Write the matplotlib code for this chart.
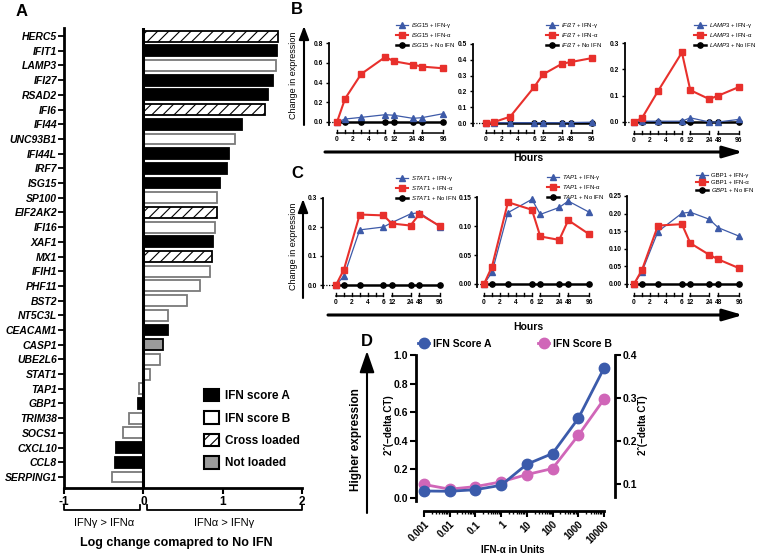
import numpy as np
import matplotlib
matplotlib.use('Agg')
import matplotlib.pyplot as plt
from matplotlib.patches import Patch, FancyArrowPatch

plt.rcParams['font.family'] = ['Liberation Sans', 'DejaVu Sans']
plt.rcParams['mathtext.fontset'] = 'custom'
plt.rcParams['mathtext.rm'] = 'Liberation Sans'
plt.rcParams['mathtext.it'] = 'Liberation Sans:italic'
plt.rcParams['hatch.linewidth'] = 0.8

# ---- panel A data: log change vs no IFN, and which score the gene loads on
genes = ['HERC5', 'IFIT1', 'LAMP3', 'IFI27', 'RSAD2', 'IFI6', 'IFI44', 'UNC93B1',
         'IFI44L', 'IRF7', 'ISG15', 'SP100', 'EIF2AK2', 'IFI16', 'XAF1', 'MX1',
         'IFIH1', 'PHF11', 'BST2', 'NT5C3L', 'CEACAM1', 'CASP1', 'UBE2L6', 'STAT1',
         'TAP1', 'GBP1', 'TRIM38', 'SOCS1', 'CXCL10', 'CCL8', 'SERPING1']
log_change = [1.70, 1.68, 1.67, 1.64, 1.57, 1.53, 1.24, 1.16, 1.08, 1.05, 0.97,
              0.93, 0.93, 0.90, 0.88, 0.86, 0.84, 0.71, 0.55, 0.31, 0.31, 0.25,
              0.21, 0.08, -0.06, -0.07, -0.18, -0.26, -0.34, -0.36, -0.40]
loading = ['X', 'A', 'B', 'A', 'A', 'X', 'A', 'B', 'A', 'A', 'A', 'B', 'X', 'B',
           'A', 'X', 'B', 'B', 'B', 'B', 'A', 'N', 'B', 'B', 'B', 'A', 'B', 'B',
           'A', 'A', 'B']

# ---- panels B/C data: change in expression over time
hours = [0, 1, 3, 6, 12, 24, 48, 96]
isg15_gamma = [0, 0.03, 0.047, 0.074, 0.068, 0.037, 0.044, 0.084]
isg15_alpha = [0, 0.236, 0.486, 0.659, 0.615, 0.581, 0.561, 0.544]
ifi27_gamma = [0, 0.002, 0.002, 0.002, 0.002, 0.002, 0.003, 0.005]
ifi27_alpha = [0, 0.006, 0.04, 0.229, 0.307, 0.375, 0.386, 0.411]
lamp3_gamma = [0, 0.003, 0.003, 0.003, 0.016, 0.0, 0.0, 0.01]
lamp3_alpha = [0, 0.015, 0.117, 0.264, 0.121, 0.087, 0.1, 0.133]
stat1_gamma = [0, 0.03, 0.19, 0.2, 0.215, 0.245, 0.25, 0.2]
stat1_alpha = [0, 0.053, 0.243, 0.24, 0.212, 0.205, 0.245, 0.203]
tap1_gamma = [0, 0.02, 0.123, 0.146, 0.12, 0.132, 0.143, 0.124]
tap1_alpha = [0, 0.03, 0.141, 0.128, 0.082, 0.076, 0.11, 0.086]
gbp1_gamma = [0, 0.035, 0.149, 0.201, 0.204, 0.184, 0.16, 0.136]
gbp1_alpha = [0, 0.04, 0.166, 0.17, 0.116, 0.083, 0.07, 0.045]
no_ifn = [0, 0, 0, 0, 0, 0, 0, 0]

# ---- panel D data: dose response
dose = [0.001, 0.01, 0.1, 1, 10, 100, 1000, 10000]
dose_labels = ['0.001', '0.01', '0.1', '1', '10', '100', '1000', '10000']
score_a = [0.049, 0.047, 0.058, 0.089, 0.236, 0.311, 0.556, 0.907]
score_b = [0.099, 0.088, 0.094, 0.105, 0.122, 0.136, 0.213, 0.297]

RED = '#e8302c'
BLUE = '#3d5aa8'
BLUE_D = '#3b5bab'
PINK = '#d066b8'

W, H = 760, 558
fig = plt.figure(figsize=(W / 100, H / 100), dpi=100)


def px_axes(x0, y0, x1, y1):
    return fig.add_axes([x0 / W, 1 - y1 / H, (x1 - x0) / W, (y1 - y0) / H])


def ftext(x, y, s, **kw):
    kw.setdefault('ha', 'center')
    kw.setdefault('va', 'center')
    fig.text(x / W, 1 - y / H, s, **kw)


def arrow(x0, y0, x1, y1, lw=1.5, hl=1.0, hw=0.4):
    fig.add_artist(FancyArrowPatch((x0 / W, 1 - y0 / H), (x1 / W, 1 - y1 / H),
                                   transform=fig.transFigure, color='black', lw=lw,
                                   arrowstyle='-|>,head_length=%g,head_width=%g' % (hl, hw),
                                   mutation_scale=10, shrinkA=0, shrinkB=0))


# ================= panel A
axA = px_axes(64, 28, 302, 488)
styles = {
    'A': dict(color='black', edgecolor='black'),
    'B': dict(color='white', edgecolor='#7a7a7a'),
    'X': dict(color='white', edgecolor='black', hatch='///'),
    'N': dict(color='#9b9b9b', edgecolor='black'),
}
ypos = np.arange(len(genes))
vals = np.array(log_change)
cats = np.array(loading)
for c, st in styles.items():
    m = cats == c
    axA.barh(ypos[m], vals[m], height=0.74, lw=1.3, **st)
axA.set_ylim(30.75, -0.55)
axA.set_xlim(-1, 2)
axA.axvline(0, color='black', lw=2.2, zorder=5)
for s in ['top', 'right']:
    axA.spines[s].set_visible(False)
for s in ['left', 'bottom']:
    axA.spines[s].set_linewidth(2)
axA.set_yticks(ypos, genes, fontstyle='italic', fontweight='bold', fontsize=7.5)
axA.set_xticks([-1, 0, 1, 2], ['-1', '0', '1', '2'], fontweight='bold', fontsize=8.5)
axA.tick_params(axis='y', length=4, width=1.3, pad=1)
axA.tick_params(axis='x', length=4, width=1.5, pad=2)

trA = axA.get_xaxis_transform()
yb = -22 / 460
for a, b in [(-1, -0.04), (0.04, 2)]:
    axA.plot([a, a, b, b], [yb + 0.011, yb, yb, yb + 0.011], color='black', lw=1.3,
             transform=trA, clip_on=False)
ftext(104, 523, 'IFNγ > IFNα', fontsize=8)
ftext(224, 523, 'IFNα > IFNγ', fontsize=8)
ftext(176, 543, 'Log change comapred to No IFN', fontsize=9, fontweight='bold')

handles = [Patch(facecolor='black', edgecolor='black', lw=1.5),
           Patch(facecolor='white', edgecolor='black', lw=1.5),
           Patch(facecolor='white', edgecolor='black', lw=1.5, hatch='///'),
           Patch(facecolor='#9b9b9b', edgecolor='black', lw=1.5)]
axA.legend(handles, ['IFN score A', 'IFN score B', 'Cross loaded', 'Not loaded'],
           loc='upper left', bbox_to_anchor=(204 / W, 1 - 389 / H),
           bbox_transform=fig.transFigure, frameon=False,
           prop={'weight': 'bold', 'size': 8.5}, handlelength=1.25, handleheight=1.25,
           handletextpad=0.5, labelspacing=0.78, borderpad=0, borderaxespad=0)

# ================= panels B and C
H_BR = [-50, 0, 6, 12, 24, 48, 96, 400]
P_BR = [-50, 0, 6, 7.05, 9.42, 10.55, 13.15, 29.6]


def fwd(h):
    return np.interp(h, H_BR, P_BR)


def inv(p):
    return np.interp(p, P_BR, H_BR)


def time_panel(gene, gamma, alpha, box, ymax, ystep, fmt, seg_y, leg_xy,
               italic=(True, True, True)):
    spine, x0, x96, ytop, y0 = box
    unit = (x96 - x0) / fwd(96)
    ybot = y0 + 3
    ax = px_axes(spine, ytop, x96 + 6, ybot)
    ax.set_xscale('function', functions=(fwd, inv))
    left = inv(-(x0 - spine) / unit)
    ax.set_xlim(left, inv(fwd(96) + 6 / unit))
    ax.set_ylim(-3 * ymax / (y0 - ytop), ymax)

    names = [r'$\mathit{%s}$' % gene if it else gene for it in italic]
    ax.plot(hours, gamma, color=BLUE, marker='^', ms=3.8, lw=0.9, zorder=4,
            clip_on=False, label=names[0] + ' + IFN-γ')
    ax.plot(hours, alpha, color=RED, marker='s', ms=4.4, lw=1.5, zorder=5,
            clip_on=False, label=names[1] + ' + IFN-α')
    ax.plot(hours, no_ifn, color='black', marker='o', ms=3.8, lw=1.8, zorder=3,
            clip_on=False, label=names[2] + ' + No IFN')
    ax.plot([left, 0], [0, 0], color='black', ls=(0, (1, 1.2)), lw=0.9, clip_on=False)

    for s in ['top', 'right', 'bottom']:
        ax.spines[s].set_visible(False)
    ax.spines['left'].set_linewidth(1.3)
    yt = np.arange(0, ymax + ystep / 2, ystep)
    ax.set_yticks(yt, [fmt % v for v in yt], fontsize=4.8, fontweight='bold')
    ax.tick_params(axis='y', length=2.5, width=1, pad=1.5)
    xt = [0, 2, 4, 6, 12, 24, 48, 96]
    ax.set_xticks(xt, [str(v) for v in xt], fontsize=4.8, fontweight='bold')
    ax.tick_params(axis='x', length=0, pad=(seg_y + 3 - ybot) / 1.389)

    tr = ax.get_xaxis_transform()
    hpx = ybot - ytop
    ys = -(seg_y - ybot) / hpx
    th = 3.5 / hpx
    for a, b, ticks in [(0, 6, range(0, 7)), (12, 24, [12, 24]), (48, 96, [48, 96])]:
        ax.plot([a, b], [ys, ys], color='black', lw=1.1, transform=tr, clip_on=False)
        for t in ticks:
            ax.plot([t, t], [ys, ys + th], color='black', lw=1.0, transform=tr,
                    clip_on=False)

    mx, ty = leg_xy
    ax.legend(loc='upper left', bbox_to_anchor=((mx - 6) / W, 1 - ty / H),
              bbox_transform=fig.transFigure, frameon=False, fontsize=4.3,
              handlelength=2.0, handletextpad=0.5, labelspacing=0.25,
              borderpad=0, borderaxespad=0)
    return ax


time_panel('ISG15', isg15_gamma, isg15_alpha, (329, 337, 443, 43, 122), 0.8, 0.2,
           '%.1f', 133, (402, 21))
time_panel('IFI27', ifi27_gamma, ifi27_alpha, (473, 486, 592, 44, 123), 0.5, 0.1,
           '%.1f', 133, (552, 21))
time_panel('LAMP3', lamp3_gamma, lamp3_alpha, (625, 634, 739, 43, 122), 0.3, 0.1,
           '%.1f', 134, (700, 21))
time_panel('STAT1', stat1_gamma, stat1_alpha, (323, 336, 440, 198, 285), 0.3, 0.1,
           '%.1f', 296, (402, 174))
time_panel('TAP1', tap1_gamma, tap1_alpha, (477, 484, 589, 197, 284), 0.15, 0.05,
           '%.2f', 296, (553, 173))
time_panel('GBP1', gbp1_gamma, gbp1_alpha, (627, 634, 739, 196, 284), 0.25, 0.05,
           '%.2f', 296, (702, 173), italic=(False, False, True))

arrow(325, 152, 743, 152, lw=2.2, hl=1.2, hw=0.35)
arrow(328, 315, 743, 315, lw=2.2, hl=1.2, hw=0.35)
ftext(528, 158, 'Hours', fontsize=7.5, fontweight='bold')
ftext(528, 327, 'Hours', fontsize=7.5, fontweight='bold')
arrow(304, 125, 304, 26, lw=1.5, hl=0.8, hw=0.3)
arrow(303, 298, 303, 199, lw=1.5, hl=0.8, hw=0.3)
ftext(293, 75, 'Change in expression', fontsize=6.5, rotation=90)
ftext(293, 246, 'Change in expression', fontsize=6.5, rotation=90)

# ================= panel D
axD = px_axes(416, 355, 615, 501)
twD = axD.twinx()
axD.set_zorder(twD.get_zorder() + 1)
axD.patch.set_visible(False)
axD.set_xscale('log')
axD.set_xlim(10 ** -3.31, 10 ** 4.43)
axD.set_ylim(-0.021, 1.0)
twD.set_ylim(0.0605, 0.4)
la, = axD.plot(dose, score_a, '-o', color=BLUE_D, lw=2, ms=7.5, clip_on=False,
               label='IFN Score A')
lb, = twD.plot(dose, score_b, '-o', color=PINK, lw=2, ms=7.5, clip_on=False,
               label='IFN Score B')
for s in ['top', 'right']:
    axD.spines[s].set_visible(False)
for s in ['top', 'left', 'bottom']:
    twD.spines[s].set_visible(False)
axD.spines['left'].set_linewidth(2)
axD.spines['bottom'].set_linewidth(2)
axD.spines['bottom'].set_position(('outward', 7.2))
axD.spines['bottom'].set_bounds(0.001, 10000)
twD.spines['right'].set_linewidth(2)
twD.spines['right'].set_bounds(0.07, 0.4)

axD.set_xticks(dose, dose_labels, rotation=45, ha='right', rotation_mode='anchor',
               fontsize=7, fontweight='bold')
axD.set_xticks([k * 10.0 ** e for e in range(-3, 4) for k in range(2, 10)], minor=True)
axD.tick_params(axis='x', which='major', length=4, width=1.5, pad=2)
axD.tick_params(axis='x', which='minor', length=2.5, width=1)
yt = np.arange(0, 1.01, 0.2)
axD.set_yticks(yt, ['%.1f' % v for v in yt], fontsize=7.5, fontweight='bold')
axD.tick_params(axis='y', length=4, width=1.5, pad=1.5)
yt2 = [0.1, 0.2, 0.3, 0.4]
twD.set_yticks(yt2, ['%.1f' % v for v in yt2], fontsize=7.5, fontweight='bold')
twD.tick_params(axis='y', length=4, width=1.5, pad=1.5)

fig.legend(handles=[la, lb], loc='center left', bbox_to_anchor=(418 / W, 1 - 344 / H),
           frameon=False, ncol=2, prop={'weight': 'bold', 'size': 7.5},
           handlelength=1.1, handletextpad=0.3, columnspacing=4.5,
           borderpad=0, borderaxespad=0)
ftext(389, 425, '2ˆ(−delta CT)', fontsize=7, fontweight='bold', rotation=90)
ftext(643, 425, '2ˆ(−delta CT)', fontsize=7, fontweight='bold', rotation=90)
ftext(513, 550, 'IFN-α in Units', fontsize=7, fontweight='bold')
arrow(367, 513, 367, 351, lw=1.5, hl=1.3, hw=0.45)
ftext(356, 440, 'Higher expression', fontsize=8.5, fontweight='bold', rotation=90)

# panel letters
ftext(22, 11, 'A', fontsize=12, fontweight='bold')
ftext(297, 10, 'B', fontsize=12, fontweight='bold')
ftext(297, 173, 'C', fontsize=12, fontweight='bold')
ftext(367, 342, 'D', fontsize=12, fontweight='bold')

fig.savefig('out.png', dpi=100)
